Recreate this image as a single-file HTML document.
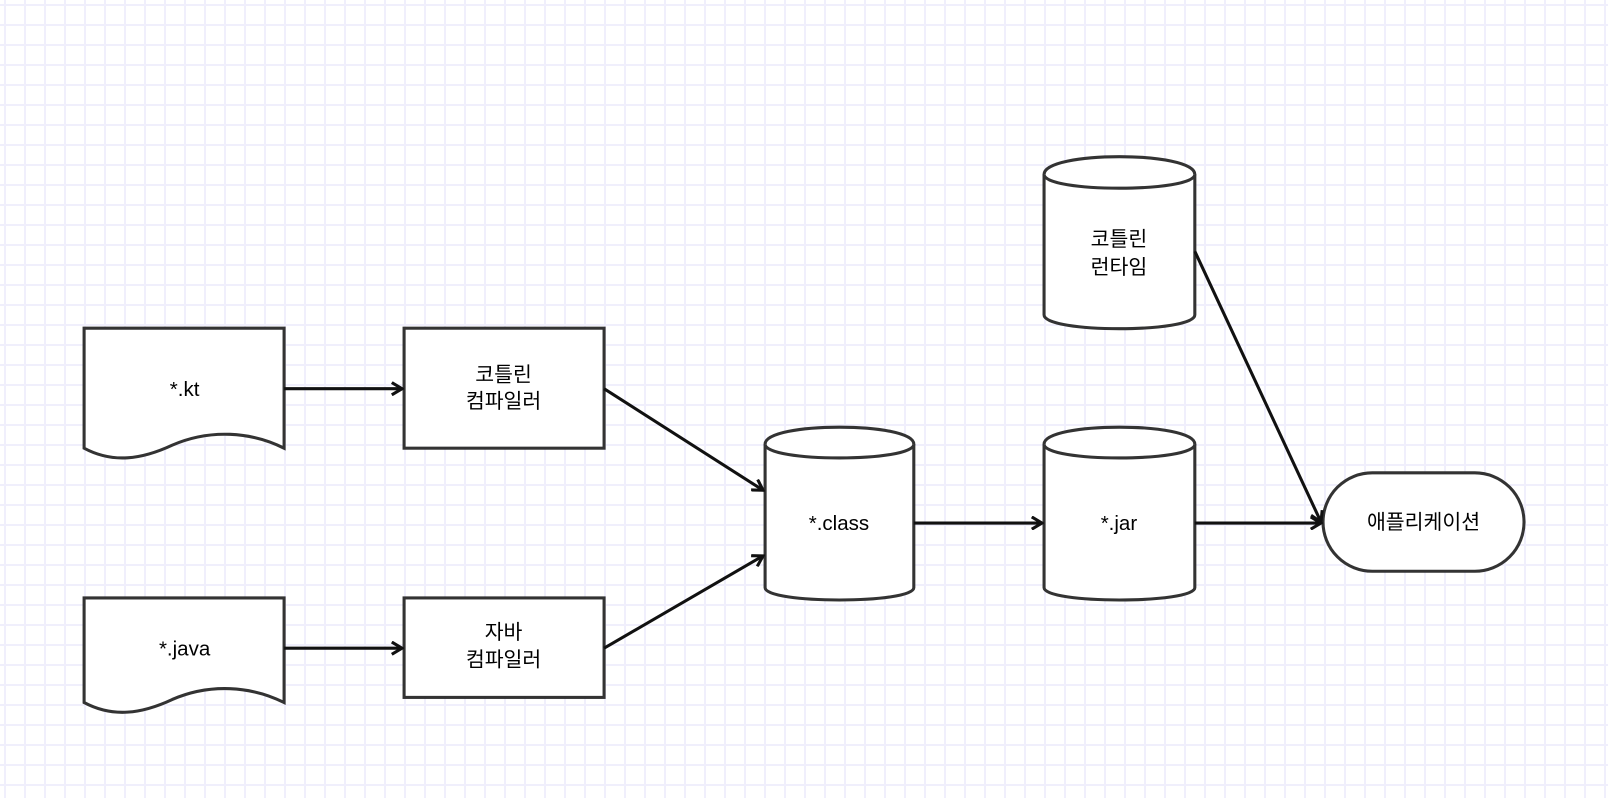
<!DOCTYPE html>
<html><head><meta charset="utf-8"><style>
html,body{margin:0;padding:0;}
body{width:1608px;height:798px;overflow:hidden;background:#fff;
background-image:linear-gradient(#f0effc 2px,transparent 2px),linear-gradient(90deg,#f0effc 2px,transparent 2px);
background-size:20px 20px;background-position:4px 4px;}
svg{position:absolute;left:0;top:0;}
text{font-family:"Liberation Sans","Noto Sans CJK KR",sans-serif;font-size:20px;fill:#000;text-anchor:middle;}
</style></head><body>
<svg width="1608" height="798" viewBox="0 0 1608 798">
<defs><marker id="a" markerWidth="14" markerHeight="14" refX="12" refY="7" orient="auto" markerUnits="userSpaceOnUse">
<path d="M2,1 L12,7 L2,13" fill="none" stroke="#111" stroke-width="3"/></marker></defs>
<g transform="scale(1.0256)">
<g stroke="#333" stroke-width="3" fill="#fff">
<path d="M82,320 H277 V437 C245,421 205,418 168,434 C138,448 110,452 82,437 Z"/>
<path d="M82,583 H277 V685 C245,669 205,666 168,682 C138,696 110,700 82,685 Z"/>
<rect x="394" y="320" width="195" height="117"/>
<rect x="394" y="583" width="195" height="97"/>
<path d="M746,433 C746,411 891,411 891,433 V573 C891,589 746,589 746,573 Z"/>
<path d="M746,433 C746,451 891,451 891,433"/>
<path d="M1018,433 C1018,411 1165,411 1165,433 V573 C1165,589 1018,589 1018,573 Z"/>
<path d="M1018,433 C1018,451 1165,451 1165,433"/>
<path d="M1018,170 C1018,147 1165,147 1165,170 V307 C1165,325 1018,325 1018,307 Z"/>
<path d="M1018,170 C1018,188 1165,188 1165,170"/>
<rect x="1290" y="461" width="196" height="96" rx="48"/>
</g>
<g stroke="#111" stroke-width="3" fill="none" marker-end="url(#a)">
<path d="M277,379 H392"/>
<path d="M277,632 H392"/>
<path d="M589,379 L744,478"/>
<path d="M589,632 L744,542"/>
<path d="M891,510 H1016"/>
<path d="M1165,510 H1288"/>
<path d="M1165,245 L1288,509"/>
</g>
<text x="180" y="386">*.kt</text>
<text x="180" y="639">*.java</text>
<text x="491" y="372">코틀린</text>
<text x="491" y="398">컴파일러</text>
<text x="491" y="623">자바</text>
<text x="491" y="650">컴파일러</text>
<text x="818" y="517">*.class</text>
<text x="1091" y="517">*.jar</text>
<text x="1091" y="240">코틀린</text>
<text x="1091" y="267">런타임</text>
<text x="1388" y="516">애플리케이션</text>
</g>
</svg>
</body></html>
